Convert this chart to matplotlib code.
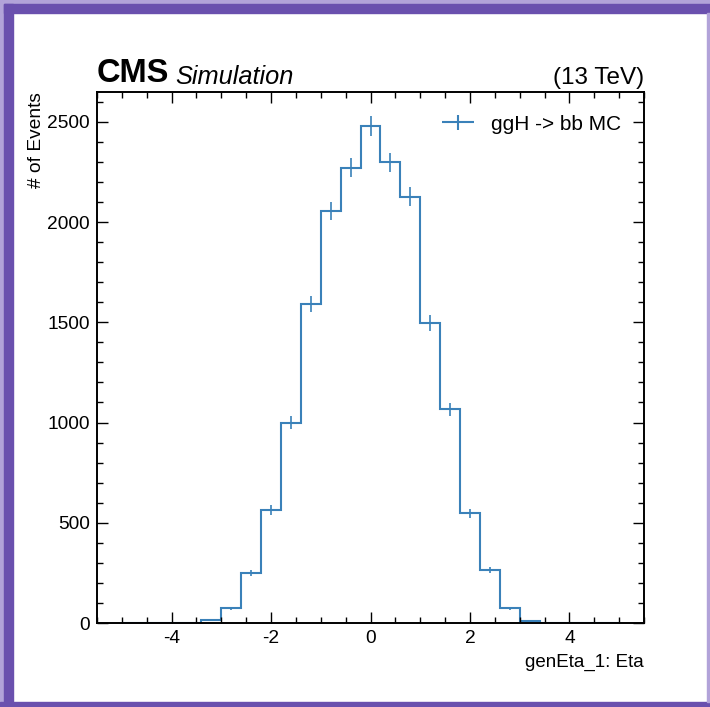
import matplotlib

matplotlib.use("Agg")
import matplotlib.pyplot as plt
import numpy as np
from matplotlib.legend_handler import HandlerErrorbar
from matplotlib.patches import Rectangle
from matplotlib.ticker import MultipleLocator

# genEta_1 histogram, 25 bins of width 0.4 from -5 to 5
bin_edges = np.linspace(-5.0, 5.0, 26)
counts = [
    0, 0, 0, 0, 15, 73, 248, 564, 1000, 1592, 2056, 2270, 2480,
    2297, 2127, 1497, 1066, 547, 264, 73, 10, 0, 0, 0, 0,
]
label = "ggH -> bb MC"
color = "#3a81b9"

plt.rcParams["font.family"] = ["Liberation Sans", "DejaVu Sans"]
plt.rcParams["axes.unicode_minus"] = False

fig = plt.figure(figsize=(7.10, 7.07), dpi=100)

# purple frame of the screenshot
W, H = 710, 707
def frame(x, y, w, h, c):
    fig.patches.append(Rectangle((x / W, 1 - (y + h) / H), w / W, h / H,
                                 transform=fig.transFigure, color=c, zorder=0))

frame(0, 0, 710, 4, "#b2a3d9")
frame(0, 0, 4, 707, "#b2a3d9")
frame(4, 4, 706, 9, "#6a50ae")
frame(4, 4, 9, 703, "#6a50ae")
frame(0, 702, 710, 5, "#6a50ae")
frame(707, 13, 3, 689, "#b2a3d9")

ax = fig.add_axes([97 / W, 1 - 623 / H, (644 - 97) / W, (623 - 91.7) / H])

counts = np.array(counts, dtype=float)
centers = 0.5 * (bin_edges[1:] + bin_edges[:-1])
ax.stairs(counts, bin_edges, color=color, lw=1.5)
mask = counts > 0
ax.errorbar(centers[mask], counts[mask], yerr=np.sqrt(counts[mask]),
            ls="none", color=color, lw=1.2)

# legend handle: a cross like mplhep draws
h = ax.errorbar([np.nan], [np.nan], xerr=[1], yerr=[1], ls="none",
                color=color, lw=1.5)
ax.legend([h], [label], loc="upper right", frameon=False, fontsize=15,
          handlelength=1.6, handletextpad=0.8, borderaxespad=0.7,
          handler_map={type(h): HandlerErrorbar(xerr_size=0.77, yerr_size=0.36)})

ax.set_xlim(-5.5, 5.5)
ax.set_ylim(0, 2650)
ax.xaxis.set_major_locator(MultipleLocator(2))
ax.xaxis.set_minor_locator(MultipleLocator(0.5))
ax.yaxis.set_major_locator(MultipleLocator(500))
ax.yaxis.set_minor_locator(MultipleLocator(100))
ax.tick_params(which="both", direction="in", top=True, right=True,
               labelsize=13.8, width=1.0)
ax.tick_params(which="major", length=8, pad=5)
ax.tick_params(which="minor", length=4)
for s in ax.spines.values():
    s.set_linewidth(1.4)

ax.set_xlabel("genEta_1: Eta", fontsize=13.5, loc="right", labelpad=5)
ax.set_ylabel("# of Events", fontsize=13.8, loc="top", labelpad=2)

ax.text(0.0, 1.006, "CMS", transform=ax.transAxes, fontsize=23.5,
        fontweight="bold", ha="left", va="bottom")
ax.text(0.143, 1.006, "Simulation", transform=ax.transAxes, fontsize=18.3,
        fontstyle="italic", ha="left", va="bottom")
ax.text(1.0, 1.006, "(13 TeV)", transform=ax.transAxes, fontsize=17.5,
        ha="right", va="bottom")

fig.savefig("out.png", dpi=100, facecolor="white")
